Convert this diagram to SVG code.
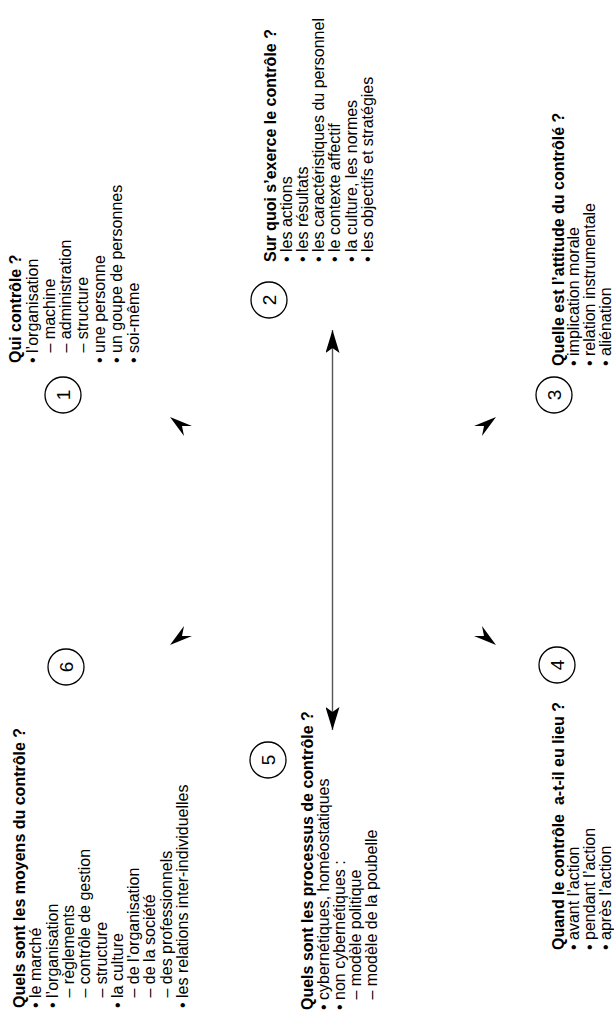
<svg xmlns="http://www.w3.org/2000/svg" xmlns:xlink="http://www.w3.org/1999/xlink" width="614" height="1015" viewBox="0 0 614 1015">
<style>
.t { font-family: "Liberation Sans", Arial, sans-serif; font-size: 16px; fill: #000; }
.b { font-weight: bold; }
.num { font-family: "Liberation Sans", Arial, sans-serif; font-size: 19px; fill: #000; text-anchor: middle; dominant-baseline: central; }
.c { fill: #fff; stroke: #000; stroke-width: 1.3; }
.ln { stroke: #555; stroke-width: 1.4; fill: none; }
.ah { fill: #000; stroke: none; }
</style>
<defs>
<marker id="arr" viewBox="0 0 23 14" refX="23" refY="7" markerWidth="23" markerHeight="14" markerUnits="userSpaceOnUse" orient="auto-start-reverse">
<path d="M0,0 L23,7 L0,14 L5,7 Z" fill="#000"/>
</marker>
<path id="head" class="ah" d="M0,0 L22,9 L12,9 L14,19 Z"/>
</defs>
<rect width="614" height="1015" fill="#fff"/>

<g id="connectors">
<line class="ln" x1="332.5" y1="330" x2="332.5" y2="730" marker-start="url(#arr)" marker-end="url(#arr)"/>
<use xlink:href="#head" href="#head" transform="translate(170,417)"/>
<use xlink:href="#head" href="#head" transform="translate(496,417) scale(-1,1)"/>
<use xlink:href="#head" href="#head" transform="translate(496,645) scale(-1,-1)"/>
<use xlink:href="#head" href="#head" transform="translate(170,645) scale(1,-1)"/>
</g>

<g id="node-1">
<circle class="c" cx="63" cy="395" r="18"/>
<text class="num" transform="translate(63,395) rotate(-90)">1</text>
<text class="t" transform="translate(0,363) rotate(-90)">
<tspan class="b" x="0" y="21">Qui contrôle ?</tspan>
<tspan x="0" y="37.8">• l’organisation</tspan>
<tspan x="10.5" y="54.6">– machine</tspan>
<tspan x="10.5" y="71.4">– administration</tspan>
<tspan x="10.5" y="88.2">– structure</tspan>
<tspan x="0" y="105">• une personne</tspan>
<tspan x="0" y="121.8">• un goupe de personnes</tspan>
<tspan x="0" y="138.6">• soi-même</tspan>
</text>
</g>

<g id="node-2">
<circle class="c" cx="269" cy="300" r="18"/>
<text class="num" transform="translate(269,300) rotate(-90)">2</text>
<text class="t" transform="translate(0,262) rotate(-90)">
<tspan class="b" x="0" y="276">Sur quoi s’exerce le contrôle ?</tspan>
<tspan x="0" y="292.1">• les actions</tspan>
<tspan x="0" y="308.2">• les résultats</tspan>
<tspan x="0" y="324.3">• les caractéristiques du personnel</tspan>
<tspan x="0" y="340.4">• le contexte affectif</tspan>
<tspan x="0" y="356.5">• la culture, les normes</tspan>
<tspan x="0" y="372.6">• les objectifs et stratégies</tspan>
</text>
</g>

<g id="node-3">
<circle class="c" cx="554" cy="395" r="18"/>
<text class="num" transform="translate(554,395) rotate(-90)">3</text>
<text class="t" transform="translate(0,366) rotate(-90)">
<tspan class="b" x="0" y="563.5">Quelle est l’attitude du contrôlé ?</tspan>
<tspan x="0" y="579.3">• implication morale</tspan>
<tspan x="0" y="595.1">• relation instrumentale</tspan>
<tspan x="0" y="610.9">• aliénation</tspan>
</text>
</g>

<g id="node-4">
<circle class="c" cx="557" cy="665" r="18"/>
<text class="num" transform="translate(557,665) rotate(-90)">4</text>
<text class="t" transform="translate(0,950) rotate(-90)" xml:space="preserve"><tspan class="b" x="0" y="563.5">Quand le contrôle  a-t-il eu lieu ?</tspan><tspan x="0" y="579.3">• avant l’action</tspan><tspan x="0" y="595.1">• pendant l’action</tspan><tspan x="0" y="610.9">• après l’action</tspan></text>
</g>

<g id="node-5">
<circle class="c" cx="268" cy="760" r="18"/>
<text class="num" transform="translate(268,760) rotate(-90)">5</text>
<text class="t" transform="translate(0,1010) rotate(-90)">
<tspan class="b" x="0" y="313">Quels sont les processus de contrôle ?</tspan>
<tspan x="0" y="329">• cybernétiques, homéostatiques</tspan>
<tspan x="0" y="345">• non cybernétiques :</tspan>
<tspan x="10.5" y="361">– modèle politique</tspan>
<tspan x="10.5" y="377">– modèle de la poubelle</tspan>
</text>
</g>

<g id="node-6">
<circle class="c" cx="66" cy="667" r="18"/>
<text class="num" transform="translate(66,667) rotate(-90)">6</text>
<text class="t" transform="translate(0,1008) rotate(-90)">
<tspan class="b" x="0" y="25">Quels sont les moyens du contrôle ?</tspan>
<tspan x="0" y="41.3">• le marché</tspan>
<tspan x="0" y="57.6">• l’organisation</tspan>
<tspan x="10.5" y="73.9">– règlements</tspan>
<tspan x="10.5" y="90.2">– contrôle de gestion</tspan>
<tspan x="10.5" y="106.5">– structure</tspan>
<tspan x="0" y="122.8">• la culture</tspan>
<tspan x="10.5" y="139.1">– de l’organisation</tspan>
<tspan x="10.5" y="155.4">– de la société</tspan>
<tspan x="10.5" y="171.7">– des professionnels</tspan>
<tspan x="0" y="188">• les relations inter-individuelles</tspan>
</text>
</g>
</svg>
